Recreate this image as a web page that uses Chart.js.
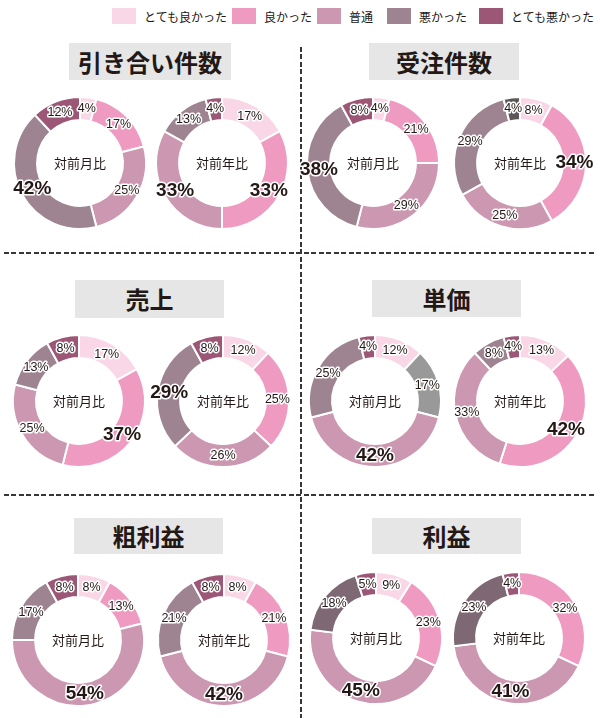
<!DOCTYPE html>
<html lang="ja">
<head>
<meta charset="utf-8">
<script src="https://cdn.jsdelivr.net/npm/chart.js@4"></script>
<style>
  html, body { margin: 0; padding: 0; background: #fff; }
  #page { position: relative; width: 600px; height: 718px; overflow: hidden; font-family: "Noto Sans CJK JP", sans-serif; color: #231815; }
  .legend-item { position: absolute; top: 8px; height: 16px; display: flex; align-items: center; font-size: 12px; white-space: nowrap; }
  .legend-item span.box { display: inline-block; width: 24px; height: 16px; margin-right: 8px; }
  .title { position: absolute; background: #e6e6e6; font-weight: bold; font-size: 24px; display: flex; align-items: center; justify-content: center; line-height: 1; }
  .vline { position: absolute; left: 300px; top: 47px; width: 2px; height: 671px;
    background: repeating-linear-gradient(to bottom, #3a3536 0 5px, transparent 5px 7.5px); }
  .hline { position: absolute; left: 4px; width: 592px; height: 2px;
    background: repeating-linear-gradient(to right, #3a3536 0 5px, transparent 5px 7.5px); }
  canvas { position: absolute; }
</style>
</head>
<body>
<div id="page">
  <div class="vline"></div>
  <div class="hline" style="top:252px"></div>
  <div class="hline" style="top:494px"></div>
</div>
<script>
// answer categories (clockwise from the top)
const categories = ['とても良かった', '良かった', '普通', '悪かった', 'とても悪かった'];
const panelTitles = ['引き合い件数', '受注件数', '売上', '単価', '粗利益', '利益'];
const periodLabels = ['対前月比', '対前年比'];

// percentages per panel: [対前月比, 対前年比]
const inquiryMonth = [4, 17, 25, 42, 12];
const inquiryYear = [17, 33, 33, 13, 4];
const ordersMonth = [4, 21, 29, 38, 8];
const ordersYear = [8, 34, 25, 29, 4];
const salesMonth = [17, 37, 25, 13, 8];
const salesYear = [12, 25, 26, 29, 8];
const unitPriceMonth = [12, 17, 42, 25, 4];
const unitPriceYear = [13, 42, 33, 8, 4];
const grossProfitMonth = [8, 13, 54, 17, 8];
const grossProfitYear = [8, 21, 42, 21, 8];
const profitMonth = [9, 23, 45, 18, 5];
const profitYear = [0, 32, 41, 23, 4];

const panelData = [
  [inquiryMonth, inquiryYear],
  [ordersMonth, ordersYear],
  [salesMonth, salesYear],
  [unitPriceMonth, unitPriceYear],
  [grossProfitMonth, grossProfitYear],
  [profitMonth, profitYear]
];

// styling
const colors = ['#fad7e6', '#ef9ac0', '#cc97b0', '#9e8491', '#9c5776'];
// [panel, period, slice, colour] - odd colours as printed in the original
const colorOverrides = [
  [1, 1, 4, '#5d5759'],
  [3, 0, 1, '#9a999a'],
  [5, 0, 3, '#7e6873'],
  [5, 1, 3, '#7e6873']
];
const legendX = [112, 232, 317, 387, 479];
const titleBoxes = [
  [69, 43, 162, 37], [369, 43, 150, 37],
  [75, 280, 149, 38], [372, 280, 149, 37],
  [74, 518, 149, 36], [372, 518, 149, 36]
];
const donutCenters = [
  [[80, 163], [222, 163]], [[373, 163], [520, 163]],
  [[79, 401], [223, 401]], [[375, 401], [520, 401]],
  [[78, 640], [224, 640]], [[376, 638], [519, 638]]
];
const CANVAS = 170;

const page = document.getElementById('page');

categories.forEach((name, i) => {
  const item = document.createElement('div');
  item.className = 'legend-item';
  item.style.left = legendX[i] + 'px';
  item.innerHTML = `<span class="box" style="background:${colors[i]}"></span>${name}`;
  page.appendChild(item);
});

panelTitles.forEach((t, i) => {
  const [x, y, w, h] = titleBoxes[i];
  const div = document.createElement('div');
  div.className = 'title';
  Object.assign(div.style, { left: x + 'px', top: y + 'px', width: w + 'px', height: h + 'px' });
  div.textContent = t;
  page.appendChild(div);
});

const sliceLabels = {
  id: 'sliceLabels',
  afterDatasetsDraw(chart, args, opts) {
    const ctx = chart.ctx;
    const meta = chart.getDatasetMeta(0);
    const values = chart.data.datasets[0].data;
    const max = Math.max(...values);
    const first = meta.data[0];
    const cx = first.x, cy = first.y;
    ctx.save();
    ctx.textAlign = 'center';
    ctx.textBaseline = 'middle';
    ctx.fillStyle = '#231815';
    ctx.font = '13px "Noto Sans CJK JP"';
    ctx.fillText(opts.centerText, cx, cy);
    ctx.lineJoin = 'round';
    ctx.strokeStyle = '#fff';
    ctx.lineWidth = 3;
    meta.data.forEach((arc, i) => {
      const v = values[i];
      if (!v) return;
      const p = arc.getProps(['startAngle', 'endAngle', 'innerRadius', 'outerRadius'], true);
      const mid = (p.startAngle + p.endAngle) / 2;
      const r = (p.innerRadius + p.outerRadius) / 2;
      const x = cx + Math.cos(mid) * r;
      const y = cy + Math.sin(mid) * r;
      const big = v === max;
      ctx.font = big ? 'bold 19px "Liberation Sans", Arial' : '12.5px "Liberation Sans", Arial';
      const text = v + '%';
      ctx.strokeText(text, x, y);
      ctx.fillText(text, x, y);
    });
    ctx.restore();
  }
};

function createDonut(panel, period) {
  const [cx, cy] = donutCenters[panel][period];
  const canvas = document.createElement('canvas');
  canvas.width = CANVAS;
  canvas.height = CANVAS;
  canvas.style.left = (cx - CANVAS / 2) + 'px';
  canvas.style.top = (cy - CANVAS / 2) + 'px';
  page.appendChild(canvas);

  const bg = colors.slice();
  colorOverrides
    .filter(o => o[0] === panel && o[1] === period)
    .forEach(o => { bg[o[2]] = o[3]; });

  return new Chart(canvas, {
    type: 'doughnut',
    data: {
      labels: categories,
      datasets: [{
        data: panelData[panel][period],
        backgroundColor: bg,
        borderColor: '#fff',
        borderWidth: 2
      }]
    },
    options: {
      responsive: false,
      animation: false,
      radius: 66,
      cutout: '65%',
      plugins: {
        legend: { display: false },
        tooltip: { enabled: false },
        sliceLabels: { centerText: periodLabels[period] }
      }
    },
    plugins: [sliceLabels]
  });
}

panelData.forEach((pair, panel) => {
  pair.forEach((_, period) => createDonut(panel, period));
});
</script>
</body>
</html>
